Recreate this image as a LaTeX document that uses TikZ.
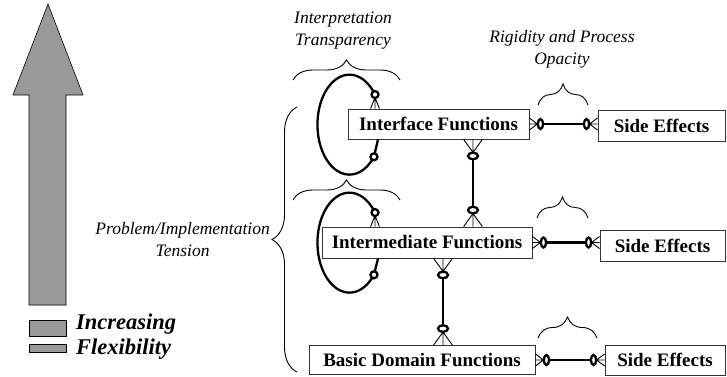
\documentclass[tikz,border=0pt]{standalone}
\usepackage{fontspec}
\setmainfont{Liberation Serif}
\usetikzlibrary{decorations.pathreplacing,calc}
\newcommand\erend[4]{% point, angle, length, spread factor
  \begin{scope}[shift={(#1)}, rotate=#2]
    \draw[foot] (0,-#4*#3) -- (#3,0) -- (0,#4*#3) (0,0) -- (#3,0);
  \end{scope}}
\newcommand\erring[5]{% point, angle, distance, along radius, across radius
  \begin{scope}[shift={(#1)}, rotate=#2]
    \draw[ring] (#3,0) ellipse [x radius=#4, y radius=#5];
  \end{scope}}
\begin{document}
\begin{tikzpicture}[x=1pt,y=-1pt,
  box/.style={draw=black!80, line width=0.9pt, fill=white, inner sep=0pt,
    font=\fontsize{19}{21}\selectfont\bfseries},
  lab/.style={font=\fontsize{17.5}{22}\selectfont\itshape, align=center, inner sep=0pt},
  big/.style={font=\fontsize{22.5}{26}\selectfont\bfseries\itshape, inner sep=0pt, anchor=west},
  conn/.style={line width=2.3pt},
  foot/.style={line width=0.9pt},
  ring/.style={line width=2.3pt, fill=white},
  brc/.style={decorate, decoration={brace, amplitude=#1}, line width=0.9pt},
  shade/.style={fill=black!40, draw=black, line width=0.6pt}
]
\useasboundingbox (0,0) rectangle (727,376);

% flexibility arrow
\draw[shade] (29,305) -- (29,95) -- (13,95) -- (48,4) -- (83,95) -- (66,95) -- (66,305) -- cycle;
\draw[shade] (29,320) rectangle (66,336);
\draw[shade] (29,344) rectangle (66,352);
\node[big] (inc) at (76,324) {Increasing};
\node[big] (flex) at (76,349) {Flexibility};

% boxes
\node[box, minimum width=181, minimum height=30] (IF) at (438.5,124) {Interface Functions};
\node[box, minimum width=210, minimum height=31] (IM) at (427,242.5) {Intermediate Functions};
\node[box, minimum width=226, minimum height=29] (BD) at (422,360) {Basic Domain Functions};
\node[box, minimum width=127, minimum height=31] (SE1) at (661.5,125.5) {Side Effects};
\node[box, minimum width=125, minimum height=31] (SE2) at (662.5,245.5) {Side Effects};
\node[box, minimum width=120, minimum height=30] (SE3) at (665,360) {Side Effects};

% horizontal relationships
\coordinate (h1a) at (IF.east);
\coordinate (h1b) at (SE1.west |- IF.east);
\coordinate (h2a) at (IM.east);
\coordinate (h2b) at (SE2.west |- IM.east);
\coordinate (h3a) at (BD.east);
\coordinate (h3b) at (SE3.west |- BD.east);
\foreach \a/\b in {h1a/h1b,h2a/h2b,h3a/h3b}{
  \draw[conn] ($(\a)+(8,0)$) -- ($(\b)+(-8,0)$);
  \erend{\a}{0}{8}{0.75}
  \erend{\b}{180}{8}{0.75}
  \erring{\a}{0}{11}{2.6}{5}
  \erring{\b}{180}{11}{2.6}{5}
}

% vertical relationships
\coordinate (vx1) at (473,0);
\coordinate (vx2) at (443,0);
\coordinate (v1a) at (IF.south -| vx1);
\coordinate (v1b) at (IM.north -| vx1);
\coordinate (v2a) at (IM.south -| vx2);
\coordinate (v2b) at (BD.north -| vx2);
\foreach \a/\b in {v1a/v1b,v2a/v2b}{
  \draw[conn] ($(\a)+(0,13)$) -- ($(\b)+(0,-13)$);
  \erend{\a}{-90}{13}{0.72}
  \erend{\b}{90}{13}{0.72}
  \erring{\a}{-90}{16.5}{3.3}{5}
  \erring{\b}{90}{16.5}{3.3}{5}
}

% recursive loops
\coordinate (lx) at (375,0);
\coordinate (lb) at (378,0);
\foreach \n in {IF,IM}{
  \coordinate (t\n) at (\n.north -| lx);
  \coordinate (r\n) at ($(t\n)+(0,-14)$);
  \coordinate (s\n) at (\n.south -| lb);
  \draw[conn] (r\n) arc[start angle=-37, end angle=-320, x radius=32, y radius=50] coordinate (e\n);
  \draw[conn] (s\n) -- (e\n);
  \erend{t\n}{90}{11}{0.4}
  \draw[ring] (r\n) circle[radius=3.5];
  \draw[ring] (e\n) circle[radius=3.5];
}

% braces
\coordinate (b1a) at (293,80);  \coordinate (b1b) at (400,80);
\coordinate (b2a) at (293,200); \coordinate (b2b) at (400,200);
\draw[brc=20] (b1a) -- (b1b);
\draw[brc=20] (b2a) -- (b2b);
\coordinate (bLa) at (297,372); \coordinate (bLb) at (297,107);
\draw[brc=25] (bLa) -- (bLb);
\coordinate (s1a) at (538,105); \coordinate (s1b) at (588,105);
\coordinate (s2a) at (537,218); \coordinate (s2b) at (588,218);
\coordinate (s3a) at (538,338); \coordinate (s3b) at (597,338);
\draw[brc=21] (s1a) -- (s1b);
\draw[brc=21] (s2a) -- (s2b);
\draw[brc=21] (s3a) -- (s3b);

% labels
\node[lab] (it) at (343,31) {Interpretation\\Transparency};
\node[lab] (rp) at (562,49) {Rigidity and Process\\Opacity};
\node[lab, anchor=east] (pi) at (270,240) {Problem/Implementation\\Tension};
\end{tikzpicture}
\end{document}
